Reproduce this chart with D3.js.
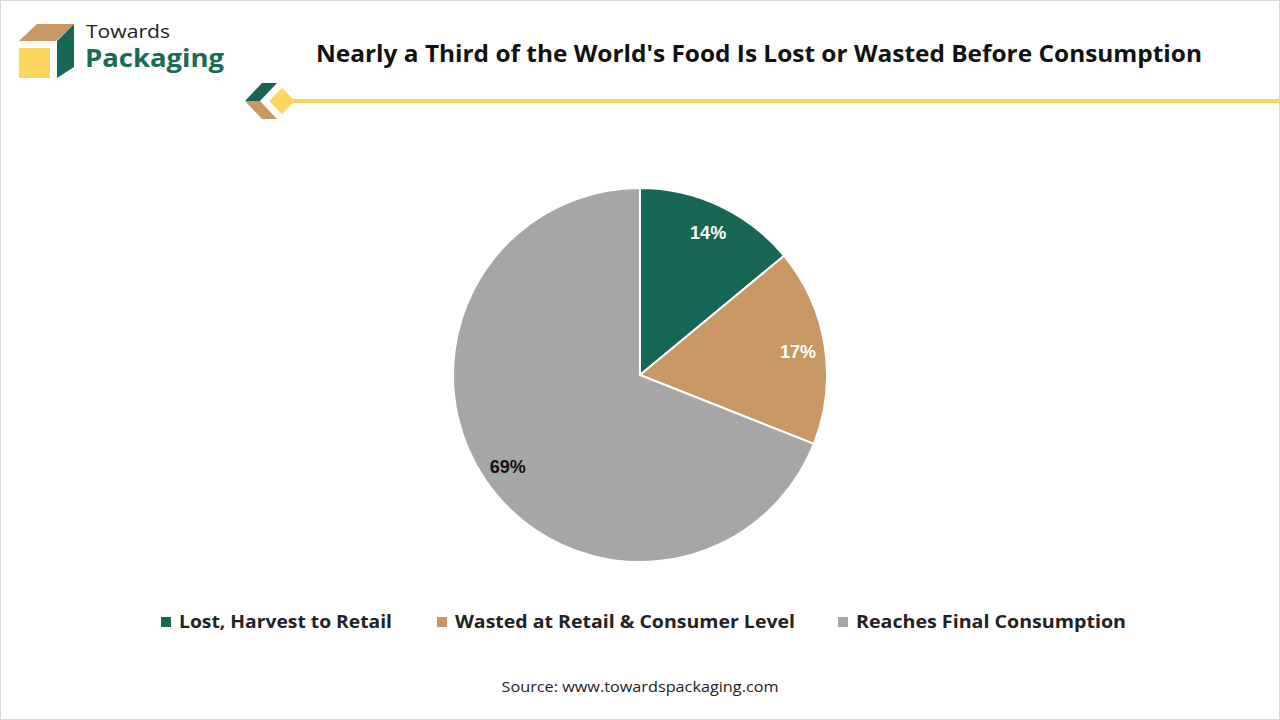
<!DOCTYPE html>
<html>
<head>
<meta charset="utf-8">
<script src="https://cdn.jsdelivr.net/npm/d3@7"></script>
<style>
  body { margin: 0; background: #fff; }
  svg { display: block; }
</style>
</head>
<body>
<script>
// chart data
var categories = ["Lost, Harvest to Retail", "Wasted at Retail & Consumer Level", "Reaches Final Consumption"];
var shares = [14, 17, 69];
var colors = ["#176554", "#c99763", "#a6a6a6"];
var labelColors = ["#ffffff", "#ffffff", "#111111"];

var title = "Nearly a Third of the World's Food Is Lost or Wasted Before Consumption";
var source = "Source: www.towardspackaging.com";

var width = 1280, height = 720;

var svg = d3.select("body").append("svg")
    .attr("width", width)
    .attr("height", height);

// frame
svg.append("rect")
    .attr("x", 0.5).attr("y", 0.5)
    .attr("width", width - 1).attr("height", height - 1)
    .attr("fill", "#fff")
    .attr("stroke", "#d9d9d9");

// logo
var logo = svg.append("g");
logo.append("polygon")
    .attr("points", "19,41 37,24 74,24 56,41")
    .attr("fill", "#c99763");
logo.append("polygon")
    .attr("points", "57,41 74,24 74,67 57,78")
    .attr("fill", "#176554");
logo.append("rect")
    .attr("x", 19).attr("y", 48).attr("width", 31).attr("height", 30)
    .attr("fill", "#fdd65f");
logo.append("text")
    .attr("x", 86).attr("y", 38)
    .attr("font-family", "'Open Sans', sans-serif")
    .attr("font-size", 18)
    .attr("textLength", 84)
    .attr("lengthAdjust", "spacingAndGlyphs")
    .attr("fill", "#222")
    .text("Towards");
logo.append("text")
    .attr("x", 85).attr("y", 67)
    .attr("font-family", "'Open Sans', sans-serif")
    .attr("font-weight", 700)
    .attr("font-size", 25)
    .attr("textLength", 139)
    .attr("lengthAdjust", "spacingAndGlyphs")
    .attr("fill", "#1b6a56")
    .text("Packaging");

// title
svg.append("text")
    .attr("x", 759).attr("y", 62)
    .attr("text-anchor", "middle")
    .attr("font-family", "'Open Sans', sans-serif")
    .attr("font-weight", 700)
    .attr("font-size", 23)
    .attr("textLength", 886)
    .attr("lengthAdjust", "spacingAndGlyphs")
    .attr("fill", "#111")
    .text(title);

// header rule and ornament
svg.append("line")
    .attr("x1", 288).attr("x2", 1280)
    .attr("y1", 101).attr("y2", 101)
    .attr("stroke", "#f5d565")
    .attr("stroke-width", 4);
svg.append("polygon")
    .attr("points", "245,101 262,83 277,83 260,101")
    .attr("fill", "#176554");
svg.append("polygon")
    .attr("points", "245,101 260,101 277,119 262,119")
    .attr("fill", "#c99763");
svg.append("polygon")
    .attr("points", "269,101 282,88 295,101 282,114")
    .attr("fill", "#fdd65f");

// pie
var cx = 640, cy = 375, radius = 187;

var pie = d3.pie().sort(null).value(function(d) { return d; });
var arcs = pie(shares);

var arc = d3.arc().innerRadius(0).outerRadius(radius);
var labelArc = d3.arc().innerRadius(160).outerRadius(160);

var g = svg.append("g")
    .attr("transform", "translate(" + cx + "," + cy + ")");

g.selectAll("path")
    .data(arcs)
  .enter().append("path")
    .attr("d", arc)
    .attr("fill", function(d, i) { return colors[i]; })
    .attr("stroke", "#fff")
    .attr("stroke-width", 2);

g.selectAll(".lbl")
    .data(arcs)
  .enter().append("text")
    .attr("class", "lbl")
    .attr("transform", function(d) {
      var c = labelArc.centroid(d);
      return "translate(" + c[0] + "," + (c[1] + 2) + ")";
    })
    .attr("text-anchor", "middle")
    .attr("dy", "0.35em")
    .attr("font-family", "'Liberation Sans', Arial, sans-serif")
    .attr("font-weight", 700)
    .attr("font-size", 18)
    .attr("fill", function(d, i) { return labelColors[i]; })
    .text(function(d) { return d.data + "%"; });

// legend
var legendX = [161, 437, 838];
var legendW = [213, 340, 270];

var legend = svg.append("g");
categories.forEach(function(c, i) {
  legend.append("rect")
    .attr("x", legendX[i]).attr("y", 617)
    .attr("width", 10).attr("height", 10)
    .attr("fill", colors[i]);
  legend.append("text")
    .attr("x", legendX[i] + 18).attr("y", 628)
    .attr("font-family", "'Open Sans', sans-serif")
    .attr("font-weight", 700)
    .attr("font-size", 18)
    .attr("textLength", legendW[i])
    .attr("lengthAdjust", "spacingAndGlyphs")
    .attr("fill", "#222")
    .text(c);
});

// source
svg.append("text")
    .attr("x", 640).attr("y", 692)
    .attr("text-anchor", "middle")
    .attr("font-family", "'Open Sans', sans-serif")
    .attr("font-size", 15)
    .attr("textLength", 277)
    .attr("lengthAdjust", "spacingAndGlyphs")
    .attr("fill", "#222")
    .text(source);
</script>
</body>
</html>
